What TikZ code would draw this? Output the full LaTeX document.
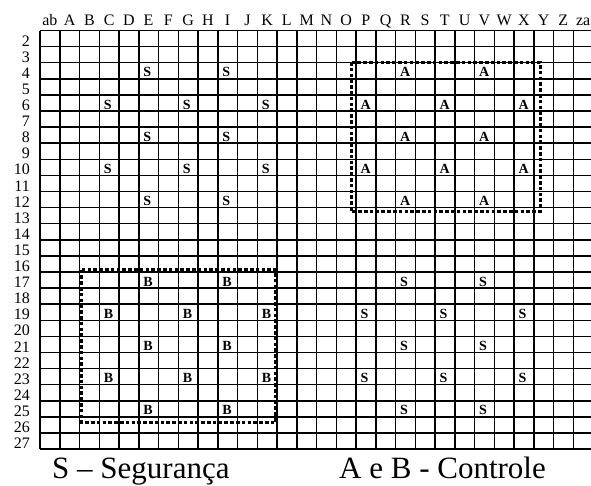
\documentclass[tikz,border=0pt]{standalone}
\usepackage{fontspec}
\setmainfont{Liberation Serif}
\begin{document}
\begin{tikzpicture}[x=1pt,y=-1pt,
  rotulo/.style={font=\fontsize{16}{18}\selectfont,inner sep=0pt},
  letra/.style={font=\fontsize{14}{16}\selectfont\bfseries,inner sep=0pt,anchor=base west},
  caixa/.style={line width=3pt,dash pattern=on 3.6pt off 2.2pt},
  legenda/.style={font=\fontsize{31}{36}\selectfont,inner sep=0pt,anchor=base west}]
\useasboundingbox (0,0) rectangle (591,485);
\def\cw{19.75}\def\rh{16.1}\def\ox{40}\def\oy{30.5}
% grade
\foreach \k in {0,...,27} \draw[line width=1.5pt] ({\ox+\k*\cw},\oy) -- ({\ox+\k*\cw},{\oy+26*\rh});
\foreach \k in {0,...,26} \draw[line width=1.5pt] (\ox,{\oy+\k*\rh}) -- (596,{\oy+\k*\rh});
% colunas e linhas
\foreach \t [count=\k from 0] in {ab,A,B,C,D,E,F,G,H,I,J,K,L,M,N,O,P,Q,R,S,T,U,V,W,X,Y,Z,za}
  \node[rotulo,anchor=base] (col-\k) at ({\ox+(\k+0.5)*\cw},25) {\t};
\foreach \r in {2,...,27}
  \node[rotulo,anchor=base east] (lin-\r) at (30,{\oy+(\r-1)*\rh-0.5}) {\r};
% letras
\newcommand{\celula}[3]{\node[letra] (#3-#1-#2) at ({\ox+#1*\cw+4.5},{\oy+(#2-1)*\rh-2}) {#3};}
\foreach \dc/\dr/\t in {3/4/S, 16/4/A, 3/17/B, 16/17/S}{
  \foreach \i in {0,4,8} \foreach \j in {2,6} {\pgfmathtruncatemacro\cc{\dc+\j}\pgfmathtruncatemacro\rr{\dr+\i}\celula{\cc}{\rr}{\t}}
  \foreach \i in {2,6} \foreach \j in {0,4,8} {\pgfmathtruncatemacro\cc{\dc+\j}\pgfmathtruncatemacro\rr{\dr+\i}\celula{\cc}{\rr}{\t}}}
% regioes pontilhadas
\draw[caixa] (351,62) rectangle (540,211.5);
\draw[caixa] (81.5,269.5) rectangle (275.5,422.5);
\node[legenda] (leg-s) at (52,478) {S – Segurança};
\node[legenda] (leg-ab) at (339,478) {A e B - Controle};
\end{tikzpicture}
\end{document}
